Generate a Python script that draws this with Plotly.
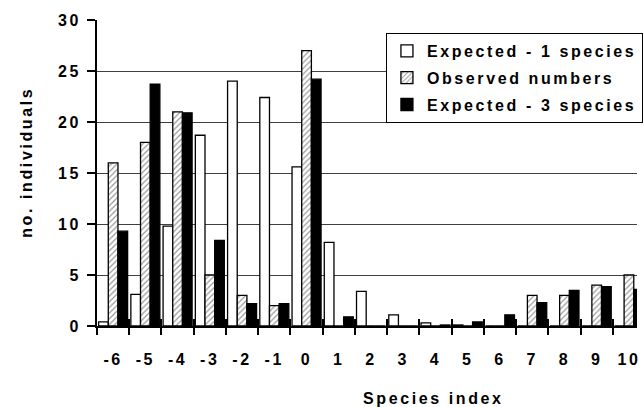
import plotly.graph_objects as go

# ---- data ----
categories = [-6, -5, -4, -3, -2, -1, 0, 1, 2, 3, 4, 5, 6, 7, 8, 9, 10]
tick_labels = ["-6", "-5", "-4", "-3", "-2", "-1", "0", "1", "2", "3", "4", "5", "6", "7", "8", "9", "10"]
expected_1 = [0.4, 3.1, 9.8, 18.7, 24.0, 22.4, 15.6, 8.2, 3.4, 1.1, 0.3, 0.1, 0, 0, 0, 0, 0]
observed = [16, 18, 21, 5, 3, 2, 27, 0, 0, 0, 0, 0, 0, 3, 3, 4, 5]
expected_3 = [9.3, 23.7, 20.9, 8.4, 2.2, 2.2, 24.2, 0.9, 0, 0, 0.1, 0.4, 1.1, 2.3, 3.5, 3.85, 3.6]
y_ticks = [0, 5, 10, 15, 20, 25, 30]
series_names = ["Expected - 1 species", "Observed numbers", "Expected - 3 species"]

FONT = "Liberation Sans, Arial, sans-serif"
LS = "letter-spacing:2.6px"


def sp(t):
    return f'<span style="{LS}">{t}</span>'


fig = go.Figure()
fig.add_trace(go.Bar(
    x=categories, y=expected_1, name=sp(series_names[0]), legendgroup="a",
    marker=dict(color="white", line=dict(color="black", width=1.3)),
))
fig.add_trace(go.Bar(
    x=categories, y=observed, name=sp(series_names[1]), legendgroup="b",
    marker=dict(color="white", line=dict(color="black", width=1.3),
                pattern=dict(shape="/", fgcolor="#333333", bgcolor="white",
                             size=4, solidity=0.3)),
))
fig.add_trace(go.Bar(
    x=categories, y=expected_3, name=sp(series_names[2]), legendgroup="c",
    marker=dict(color="black", line=dict(color="black", width=1.3)),
))
# invisible helper trace so the overlay axis (inner half of crossing ticks) exists
fig.add_trace(go.Scatter(
    x=[categories[0]], y=[0], xaxis="x2", mode="markers",
    marker=dict(opacity=0), showlegend=False, hoverinfo="skip",
))

xr = [categories[0] - 0.5, categories[-1] + 0.25]

fig.update_layout(
    width=643, height=407,
    margin=dict(l=97, r=0, t=20, b=81),
    paper_bgcolor="white", plot_bgcolor="white",
    barmode="group", bargap=0.1, bargroupgap=0,
    font=dict(family=FONT, size=16, color="black", weight="bold"),
    showlegend=True,
    legend=dict(
        x=1.011, xanchor="right", y=(326 - 33) / 306, yanchor="top",
        bgcolor="white", bordercolor="black", borderwidth=1,
        tracegroupgap=3, itemwidth=30,
        font=dict(family=FONT, size=16, color="black", weight="bold"),
    ),
    xaxis=dict(
        type="linear", range=xr,
        tickmode="array", tickvals=categories,
        ticktext=[sp(t) for t in tick_labels],
        ticks="", showgrid=False, zeroline=False,
        showline=True, linecolor="black", linewidth=1.5,
        ticklabelstandoff=18, ticklabeloverflow="allow",
        minor=dict(tickmode="linear", tick0=0.5, dtick=1, ticks="outside",
                   ticklen=7, tickcolor="black", tickwidth=1.5, showgrid=False),
    ),
    xaxis2=dict(
        type="linear", range=xr, overlaying="x", anchor="y", side="bottom",
        tickmode="linear", tick0=0.5, dtick=1, ticks="inside", ticklen=7,
        tickcolor="black", tickwidth=1.5, showticklabels=False,
        showgrid=False, zeroline=False, showline=False, layer="above traces",
    ),
    yaxis=dict(
        range=[0, 30], tickmode="array", tickvals=y_ticks,
        ticktext=[sp(str(v)) for v in y_ticks],
        ticks="outside", ticklen=8, tickcolor="black", tickwidth=1.5,
        showline=True, linecolor="black", linewidth=1.5,
        showgrid=True, gridcolor="#404040", gridwidth=1, zeroline=False,
        ticklabelstandoff=3,
    ),
    annotations=[
        dict(text=sp("Species index"), xref="paper", yref="paper",
             x=(437 - 97) / 546, y=(326 - 398) / 306, xanchor="center", yanchor="middle",
             showarrow=False, font=dict(family=FONT, size=16, color="black", weight="bold")),
        dict(text=sp("no. individuals"), xref="paper", yref="paper",
             x=(25 - 97) / 546, y=(326 - 162) / 306, xanchor="center", yanchor="middle",
             textangle=-90, showarrow=False,
             font=dict(family=FONT, size=16, color="black", weight="bold")),
    ],
)

fig.write_html("out.html", config={"displayModeBar": False},
               post_script="document.body.style.margin='0px';")
